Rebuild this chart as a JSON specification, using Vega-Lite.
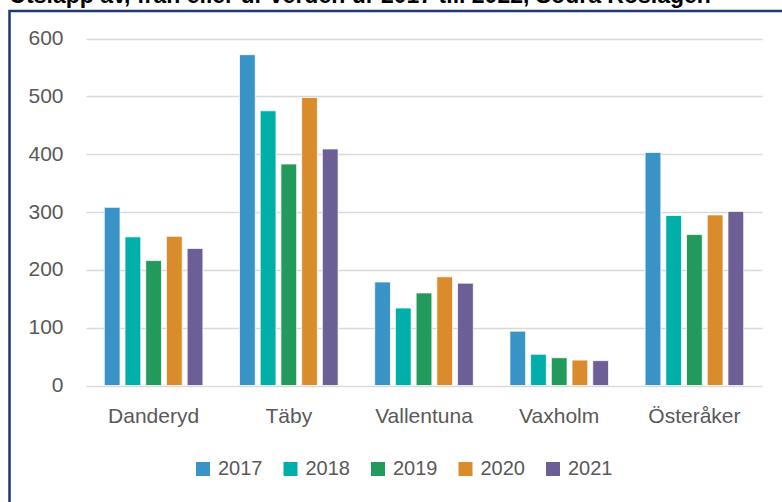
{
  "$schema": "https://vega.github.io/schema/vega-lite/v6.json",
  "autosize": {"type": "none"},
  "width": 781,
  "height": 500,
  "padding": {"left": 9.5, "top": 11, "right": 0, "bottom": 0},
  "background": "white",
  "title": {
    "text": "Utsläpp av, från eller ur verden ur 2017 till 2022, Södra Roslagen",
    "anchor": "start",
    "frame": "bounds",
    "fontSize": 23,
    "fontWeight": "bold",
    "color": "black",
    "font": "Liberation Sans",
    "offset": 3
  },
  "data": {
    "values": [
      {"kommun": "Danderyd", "year": "2017", "value": 308},
      {"kommun": "Danderyd", "year": "2018", "value": 257},
      {"kommun": "Danderyd", "year": "2019", "value": 216},
      {"kommun": "Danderyd", "year": "2020", "value": 258},
      {"kommun": "Danderyd", "year": "2021", "value": 237},
      {"kommun": "Täby", "year": "2017", "value": 572},
      {"kommun": "Täby", "year": "2018", "value": 475},
      {"kommun": "Täby", "year": "2019", "value": 383},
      {"kommun": "Täby", "year": "2020", "value": 498},
      {"kommun": "Täby", "year": "2021", "value": 409},
      {"kommun": "Vallentuna", "year": "2017", "value": 179},
      {"kommun": "Vallentuna", "year": "2018", "value": 134},
      {"kommun": "Vallentuna", "year": "2019", "value": 160},
      {"kommun": "Vallentuna", "year": "2020", "value": 188},
      {"kommun": "Vallentuna", "year": "2021", "value": 177},
      {"kommun": "Vaxholm", "year": "2017", "value": 94},
      {"kommun": "Vaxholm", "year": "2018", "value": 54},
      {"kommun": "Vaxholm", "year": "2019", "value": 48},
      {"kommun": "Vaxholm", "year": "2020", "value": 44},
      {"kommun": "Vaxholm", "year": "2021", "value": 43},
      {"kommun": "Österåker", "year": "2017", "value": 403},
      {"kommun": "Österåker", "year": "2018", "value": 294},
      {"kommun": "Österåker", "year": "2019", "value": 261},
      {"kommun": "Österåker", "year": "2020", "value": 295},
      {"kommun": "Österåker", "year": "2021", "value": 301}
    ]
  },
  "mark": {"type": "bar", "stroke": "white", "strokeWidth": 0.75},
  "encoding": {
    "x": {
      "field": "kommun",
      "type": "nominal",
      "sort": ["Danderyd", "Täby", "Vallentuna", "Vaxholm", "Österåker"],
      "scale": {"range": [76.5, 752.5], "paddingInner": 0.234, "paddingOuter": 0.117},
      "axis": {
        "title": null,
        "orient": "bottom",
        "offset": -125.5,
        "domain": false,
        "ticks": false,
        "tickSize": 0,
        "labelPadding": 20,
        "labelAngle": 0,
        "labelFont": "Liberation Sans",
        "labelFontSize": 21,
        "labelColor": "#595959"
      }
    },
    "xOffset": {
      "field": "year",
      "type": "nominal",
      "scale": {"paddingInner": 0.24, "paddingOuter": 0.12}
    },
    "y": {
      "field": "value",
      "type": "quantitative",
      "scale": {"domain": [0, 600], "range": [374.5, 27.5], "nice": false},
      "axis": {
        "title": null,
        "orient": "left",
        "offset": -53.5,
        "values": [0, 100, 200, 300, 400, 500, 600],
        "domain": false,
        "ticks": false,
        "tickSize": 0,
        "labelPadding": 0,
        "grid": true,
        "gridColor": "#d9d9d9",
        "gridWidth": 1.5,
        "labelFont": "Liberation Sans",
        "labelFontSize": 21,
        "labelColor": "#595959"
      }
    },
    "color": {
      "field": "year",
      "type": "nominal",
      "scale": {
        "domain": ["2017", "2018", "2019", "2020", "2021"],
        "range": ["#3a93c6", "#00afa9", "#229a5b", "#da8c2d", "#6b5f95"]
      },
      "legend": {
        "title": null,
        "orient": "none",
        "legendX": 183.5,
        "legendY": 448,
        "direction": "horizontal",
        "symbolType": "square",
        "symbolSize": 196,
        "symbolStrokeWidth": 0,
        "labelFont": "Liberation Sans",
        "labelFontSize": 20,
        "labelColor": "#595959",
        "labelOffset": 5,
        "columnPadding": 17.5,
        "padding": 0
      }
    }
  },
  "config": {
    "view": {"stroke": "#1f3a6e", "strokeWidth": 2.5}
  }
}
